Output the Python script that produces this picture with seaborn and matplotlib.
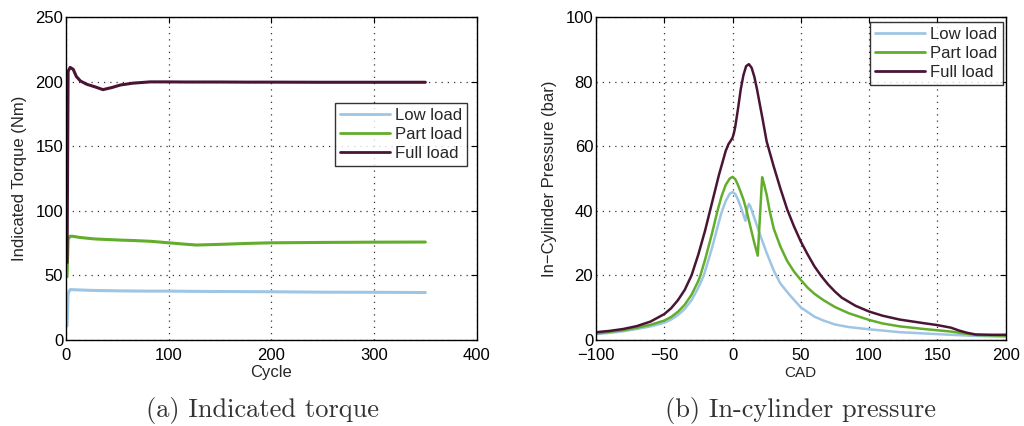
import pandas as pd
import matplotlib
matplotlib.use('Agg')
import matplotlib.pyplot as plt
import seaborn as sns

# Torque per cycle
cycle = [1, 2, 4, 7, 10, 14, 20, 28, 36, 45, 53, 65, 82, 100, 115, 127, 150, 175, 200, 250, 300, 350]
torque_low = [11, 36, 39, 38.9, 38.8, 38.7, 38.5, 38.3, 38.2, 38.1, 38.0, 37.9, 37.8, 37.8, 37.7, 37.6, 37.5, 37.4, 37.3, 37.0, 36.9, 36.7]
torque_part = [49, 78, 80.3, 80.2, 79.8, 79.3, 78.8, 78.2, 77.9, 77.6, 77.3, 77.0, 76.4, 75.2, 74.2, 73.5, 74.0, 74.7, 75.2, 75.5, 75.7, 75.8]
torque_full = [60, 208, 211, 209.5, 204, 200.5, 198, 196, 193.8, 195.5, 197.4, 198.8, 199.8, 199.8, 199.7, 199.7, 199.7, 199.6, 199.6, 199.5, 199.5, 199.5]

# In-cylinder pressure vs crank angle (each load read at its own CAD points)
cad_low = [-100, -90, -80, -70, -60, -50, -45, -40, -35, -30, -25, -21, -15, -10, -8, -5, -2, 0,
           2, 4, 6, 8, 9.5, 11, 12, 13, 15, 20.4, 25, 30.2, 35, 42.3, 50, 60, 66.7, 75, 85, 100,
           122.6, 150, 175, 200]
p_low = [1.8, 2.2, 2.7, 3.4, 4.2, 5.3, 6.3, 7.7, 9.6, 12.3, 16.2, 20.0, 28.5, 36.5, 39.5, 43.0, 45.3, 45.8,
         45.2, 43.5, 41.3, 38.7, 36.9, 41.0, 42.1, 41.5, 39.0, 32.3, 27.0, 21.5, 17.5, 13.7, 10.1, 7.2, 6.0, 4.8, 4.0, 3.3,
         2.4, 1.8, 1.3, 1.0]

cad_part = [-100, -90, -80, -70, -60, -50, -45, -40, -35, -30, -25, -23.5, -20, -15, -11, -8, -5, -2, 0,
            2, 4, 6, 8, 10, 12, 14, 16, 18.5, 21.7, 23, 25, 27.2, 30.2, 35, 40, 45, 50, 55, 60, 66.7,
            75, 85, 100, 110, 122.6, 140, 150, 160, 170, 180, 200]
p_part = [2.0, 2.5, 3.0, 3.8, 4.7, 6.0, 7.1, 8.7, 10.9, 14.0, 18.3, 20.0, 25.0, 33.0, 40.0, 44.5, 48.0, 50.0, 50.5,
          49.8, 48.0, 45.8, 43.5, 40.5, 37.0, 33.5, 30.0, 26.1, 50.4, 48.5, 45.0, 40.0, 34.5, 29.0, 24.5, 21.2, 18.6, 16.2, 14.3, 12.3,
          10.2, 8.3, 6.2, 5.1, 4.2, 3.4, 3.0, 2.6, 2.0, 1.5, 1.3]

cad_full = [-100, -90, -80, -70, -60, -50, -45, -40, -35, -30, -25, -20, -15, -10, -7, -5, -3, -1, 0,
            1, 2, 4, 6, 8, 10, 12, 14, 16, 18, 20, 22, 25, 30, 35, 40, 45, 50, 55, 60, 65,
            70, 75, 80, 90, 100, 110, 122.6, 140, 150, 160, 166, 172, 178, 190, 200]
p_full = [2.4, 2.8, 3.4, 4.3, 5.7, 8.0, 9.8, 12.3, 15.5, 20.0, 26.5, 34.0, 42.5, 51.0, 55.5, 58.5, 60.6, 61.9, 62.6,
          64.0, 66.0, 71.5, 77.5, 82.0, 84.8, 85.4, 84.3, 81.5, 77.5, 73.0, 68.5, 61.5, 54.0, 47.0, 40.5, 35.2, 30.5, 26.5, 22.8, 19.8,
          17.2, 15.0, 13.1, 10.6, 8.8, 7.5, 6.3, 5.2, 4.6, 3.8, 2.9, 2.2, 1.7, 1.6, 1.6]

labels = ['Low load', 'Part load', 'Full load']
colors = ['#9ec5e4', '#62ad2c', '#4a1535']

sns.set_theme(style='white')
plt.rcParams['font.family'] = ['Liberation Sans', 'DejaVu Sans']
plt.rcParams['axes.unicode_minus'] = True

fig = plt.figure(figsize=(10.24, 4.26), dpi=100)
ax1 = fig.add_axes([0.0645, 0.202, 0.401, 0.758])
ax2 = fig.add_axes([0.582, 0.202, 0.400, 0.758])

for lab, col, ys in zip(labels, colors, [torque_low, torque_part, torque_full]):
    sns.lineplot(x=cycle, y=ys, ax=ax1, color=col, label=lab, linewidth=2.2)
for lab, col, xs, ys in zip(labels, colors, [cad_low, cad_part, cad_full], [p_low, p_part, p_full]):
    sns.lineplot(x=xs, y=ys, ax=ax2, color=col, label=lab, linewidth=1.8)

ax1.set_xlim(0, 400)
ax1.set_ylim(0, 250)
ax1.set_xticks([0, 100, 200, 300, 400])
ax1.set_yticks([0, 50, 100, 150, 200, 250])
ax1.set_xlabel('Cycle', fontsize=12, labelpad=1)
ax1.set_ylabel('Indicated Torque (Nm)', fontsize=12, labelpad=6)

ax2.set_xlim(-100, 200)
ax2.set_ylim(0, 100)
ax2.set_xticks([-100, -50, 0, 50, 100, 150, 200])
ax2.set_yticks([0, 20, 40, 60, 80, 100])
ax2.set_xlabel('CAD', fontsize=11, labelpad=2)
ax2.set_ylabel('In\u2212Cylinder Pressure (bar)', fontsize=12, labelpad=6)

for ax in (ax1, ax2):
    ax.grid(True, linestyle=(0, (1, 4)), color='#333333', linewidth=0.9)
    ax.tick_params(direction='in', length=4, width=0.8, labelsize=12, colors='black',
                   top=True, right=True)
    ax.tick_params(axis='x', pad=6)
    ax.tick_params(axis='y', pad=2)
    for sp in ax.spines.values():
        sp.set_visible(True)
        sp.set_color('black')
        sp.set_linewidth(1.0)

leg1 = ax1.legend(loc='upper right', bbox_to_anchor=(0.976, 0.734), fontsize=12, frameon=True,
                  fancybox=False, handlelength=3.0, borderpad=0.3, labelspacing=0.25,
                  handletextpad=0.3, borderaxespad=0)
leg2 = ax2.legend(loc='upper right', bbox_to_anchor=(0.993, 0.985), fontsize=12, frameon=True,
                  fancybox=False, handlelength=3.0, borderpad=0.3, labelspacing=0.25,
                  handletextpad=0.3, borderaxespad=0)
for leg in (leg1, leg2):
    leg.get_frame().set_edgecolor('black')
    leg.get_frame().set_linewidth(1.0)
    for line in leg.get_lines():
        line.set_linewidth(2.0)

fig.text(0.256, 0.037, '(a) Indicated torque', family=['cmr10', 'DejaVu Serif'], fontsize=19,
         ha='center', va='center', color='#333333')
fig.text(0.782, 0.037, '(b) In-cylinder pressure', family=['cmr10', 'DejaVu Serif'], fontsize=19,
         ha='center', va='center', color='#333333')

fig.savefig('out.png', dpi=100)
